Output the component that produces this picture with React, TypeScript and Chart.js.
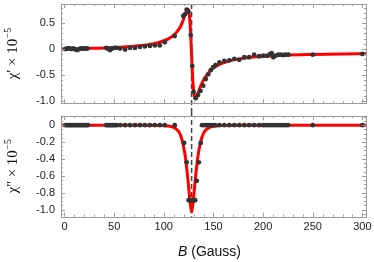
import React, { useEffect, useRef } from "react";
import { Chart, registerables } from "chart.js";
Chart.register(...registerables);

// ---- axes ----
const X_MIN = -3.5;
const X_MAX = 303.6;
const xTicks = [0, 50, 100, 150, 200, 250, 300];
const xMinorStep = 10;
const topYMin = -1.05;
const topYMax = 0.87;
const topYTicks = [0.5, 0, -0.5, -1.0];
const topYLabels = ["0.5", "0", "-0.5", "-1.0"];
const topYMinorStep = 0.1;
const botYMin = -1.085;
const botYMax = 0.109;
const botYTicks = [0, -0.2, -0.4, -0.6, -0.8, -1.0];
const botYLabels = ["0", "-0.2", "-0.4", "-0.6", "-0.8", "-1.0"];
const botYMinorStep = 0.05;
const resonanceB = 128;

// ---- chi' data ----
const chiPrimeB = [1, 3, 5, 7, 9, 11, 13, 15, 17, 19, 21, 23,
  42, 44, 46, 48, 50, 52,
  56, 61, 66, 71, 76, 81, 86, 91, 96, 101, 111,
  119.6, 121.3, 123, 124.7, 127.1, 128.7, 129.9, 132.2, 134.5, 137, 139.7, 142.3, 144.8, 147.3, 149.8, 152,
  156, 161, 166, 171, 176, 181, 186, 191, 196,
  200, 204, 207, 208.6, 210.3, 212.7, 215.3, 217.7, 220.4, 222.5, 225.4, 250, 300];
const chiPrimeVal = [0, 0.01, 0.01, 0, 0.01, -0.01, -0.02, 0, 0.01, 0.01, 0.01, 0.01,
  0.02, 0.0, -0.02, 0.01, 0.02, 0.02,
  0.01, -0.01, 0.02, 0.02, 0.04, 0.05, 0.06, 0.07, 0.07, 0.13, 0.25,
  0.64, 0.67, 0.76, 0.72, 0.27, -0.33, -0.83, -0.95, -0.89, -0.81, -0.71, -0.58, -0.49, -0.41, -0.35, -0.31,
  -0.26, -0.23, -0.22, -0.19, -0.21, -0.16, -0.16, -0.11, -0.14,
  -0.13, -0.13, -0.1, -0.08, -0.16, -0.13, -0.11, -0.11, -0.12, -0.11, -0.11, -0.11, -0.095];

// ---- chi' fit ----
const fitPrimeB = [-4, 0, 20, 40, 60, 80, 90, 100, 105, 110, 114, 117, 119, 120.5, 122, 123, 124, 124.8, 125.6, 126.4,
  127.2, 128, 128.8, 129.6, 130.4, 131.2, 132, 133, 134.5, 136, 138, 140, 143, 146, 150, 155, 160, 170, 180, 190,
  200, 220, 250, 280, 304];
const fitPrimeVal = [0, 0, 0.01, 0.02, 0.04, 0.075, 0.1, 0.16, 0.2, 0.27, 0.35, 0.44, 0.53, 0.61, 0.69, 0.74, 0.77, 0.76, 0.68, 0.5,
  0.22, -0.12, -0.45, -0.71, -0.87, -0.94, -0.95, -0.92, -0.85, -0.77, -0.68, -0.6, -0.51, -0.44, -0.37, -0.31, -0.27, -0.21, -0.18, -0.155,
  -0.14, -0.12, -0.105, -0.095, -0.09];

// ---- chi'' data ----
const chiDoubleB = [1, 2.5, 4, 5.5, 7, 8.5, 10, 11.5, 13, 14.5, 16, 17.5, 19, 20.5, 22, 23.5,
  42, 43.5, 45, 46.5, 48, 49.5, 51, 52.5,
  56, 61, 66, 71, 76, 81, 86, 91, 96, 101, 111,
  120.5, 123, 125, 126.7, 128.3, 130, 131.6, 133.2, 135.3, 137.2,
  138.5, 140.7, 142.9, 145.1, 147.3, 149.5, 151.7,
  156, 161, 166, 171, 176, 181, 186, 191, 196,
  200, 202.5, 205, 207.5, 210, 212.5, 215, 217.5, 220, 222.5, 225, 250, 300];
const chiDoubleVal = [0, 0, 0, 0, 0, 0, 0, 0, 0, 0, 0, 0, 0, 0, 0, 0,
  0, 0, 0, 0, 0, 0, 0, 0,
  0, 0, 0, 0, 0, 0, 0, 0, 0, 0, 0,
  -0.21, -0.44, -0.89, -0.89, -0.89, -0.89, -0.89, -0.66, -0.44, -0.21,
  0, 0, 0, 0, 0, 0, 0,
  0, 0, 0, 0, 0, 0, 0, 0, 0,
  0, 0, 0, 0, 0, 0, 0, 0, 0, 0, 0, 0, 0];

// ---- chi'' fit ----
const fitDoubleB = [-4, 80, 100, 105, 110, 113.5, 115.5, 117.5, 119.5, 121.5, 123, 124.5, 125.7, 126.8, 127.5, 128, 128.5, 129.2, 130.3, 131.5,
  133, 134.5, 136.5, 138.5, 140.5, 142.5, 146, 151, 156, 180, 304];
const fitDoubleVal = [0, 0, -0.005, -0.01, -0.025, -0.055, -0.085, -0.14, -0.23, -0.36, -0.5, -0.67, -0.82, -0.94, -1.0, -1.03, -1.0, -0.94, -0.82, -0.67,
  -0.5, -0.36, -0.23, -0.14, -0.085, -0.055, -0.025, -0.01, -0.005, 0, 0];

const FRAME = "#9a9a9a";
const TICKTXT = "#222";
const DOT = "#333";
const RED = "#ff0000";
const SANS = "'Liberation Sans', Arial, sans-serif";
const SERIF = "'Liberation Serif', 'Times New Roman', serif";

const pts = (xs: number[], ys: number[]) => xs.map((x, i) => ({ x, y: ys[i] }));

function drawTicks(ctx: CanvasRenderingContext2D, chart: any, yMajor: number[], yStep: number) {
  const a = chart.chartArea;
  const xs = chart.scales.x;
  const ys = chart.scales.y;
  ctx.save();
  ctx.strokeStyle = FRAME;
  ctx.lineWidth = 1;
  ctx.beginPath();
  const kx0 = Math.ceil(xs.min / xMinorStep);
  const kx1 = Math.floor(xs.max / xMinorStep);
  for (let k = kx0; k <= kx1; k++) {
    const v = k * xMinorStep;
    const major = xTicks.some((t) => Math.abs(t - v) < 1e-6);
    const len = major ? 4 : 2;
    const px = Math.round(xs.getPixelForValue(v)) + 0.5;
    ctx.moveTo(px, a.bottom);
    ctx.lineTo(px, a.bottom - len);
    ctx.moveTo(px, a.top);
    ctx.lineTo(px, a.top + len);
  }
  const ky0 = Math.ceil(ys.min / yStep - 1e-6);
  const ky1 = Math.floor(ys.max / yStep + 1e-6);
  for (let k = ky0; k <= ky1; k++) {
    const v = k * yStep;
    const major = yMajor.some((t) => Math.abs(t - v) < 1e-6);
    const len = major ? 4 : 2;
    const py = Math.round(ys.getPixelForValue(v)) + 0.5;
    ctx.moveTo(a.left, py);
    ctx.lineTo(a.left + len, py);
    ctx.moveTo(a.right, py);
    ctx.lineTo(a.right - len, py);
  }
  ctx.stroke();
  ctx.strokeRect(Math.round(a.left) + 0.5, Math.round(a.top) + 0.5, Math.round(a.right - a.left), Math.round(a.bottom - a.top));
  ctx.restore();
}

function drawYTitle(ctx: CanvasRenderingContext2D, cy: number, primes: string) {
  const main = "\u03c7" + primes + " \u00d7 10";
  const sup = "\u22125";
  ctx.save();
  ctx.translate(12, cy);
  ctx.rotate(-Math.PI / 2);
  ctx.fillStyle = "#111";
  ctx.textBaseline = "middle";
  ctx.font = "15px " + SERIF;
  const w1 = ctx.measureText(main).width;
  ctx.font = "10px " + SERIF;
  const w2 = ctx.measureText(sup).width;
  const start = -(w1 + w2) / 2;
  ctx.font = "15px " + SERIF;
  ctx.textAlign = "left";
  ctx.fillText(main, start, 1);
  ctx.font = "10px " + SERIF;
  ctx.fillText(sup, start + w1 + 0.5, -4);
  ctx.restore();
}

function dashedLine(ctx: CanvasRenderingContext2D, chart: any, y0: number, y1: number) {
  const px = chart.scales.x.getPixelForValue(resonanceB);
  ctx.save();
  ctx.strokeStyle = "#444";
  ctx.lineWidth = 1.5;
  ctx.setLineDash([5, 3]);
  ctx.beginPath();
  ctx.moveTo(px, y0);
  ctx.lineTo(px, y1);
  ctx.stroke();
  ctx.restore();
}

export default function App() {
  const topRef = useRef<HTMLCanvasElement>(null);
  const botRef = useRef<HTMLCanvasElement>(null);

  useEffect(() => {
    const tickFont = { family: SANS, size: 11 };
    const topPlugin = {
      id: "topDecor",
      beforeDatasetsDraw(chart: any) {
        dashedLine(chart.ctx, chart, chart.chartArea.top, chart.height);
      },
      afterDatasetsDraw(chart: any) {
        drawTicks(chart.ctx, chart, topYTicks, topYMinorStep);
      },
      afterDraw(chart: any) {
        const a = chart.chartArea;
        drawYTitle(chart.ctx, (a.top + a.bottom) / 2, "'");
      },
    };
    const botPlugin = {
      id: "botDecor",
      beforeDatasetsDraw(chart: any) {
        dashedLine(chart.ctx, chart, 0, chart.chartArea.bottom);
      },
      afterDatasetsDraw(chart: any) {
        drawTicks(chart.ctx, chart, botYTicks, botYMinorStep);
      },
      afterDraw(chart: any) {
        const a = chart.chartArea;
        const ctx = chart.ctx;
        drawYTitle(ctx, (a.top + a.bottom) / 2, "''");
        ctx.save();
        ctx.fillStyle = "#111";
        ctx.textBaseline = "middle";
        ctx.textAlign = "left";
        const t1 = "B";
        const t2 = " (Gauss)";
        ctx.font = "italic 14px " + SANS;
        const w1 = ctx.measureText(t1).width;
        ctx.font = "14px " + SANS;
        const w2 = ctx.measureText(t2).width;
        const x0 = 209.5 - (w1 + w2) / 2;
        const y = 140;
        ctx.font = "italic 14px " + SANS;
        ctx.fillText(t1, x0, y);
        ctx.font = "14px " + SANS;
        ctx.fillText(t2, x0 + w1, y);
        ctx.restore();
      },
    };

    const dotDs = (data: any[]) => ({
      data,
      showLine: false,
      pointRadius: 2.4,
      pointBackgroundColor: DOT,
      pointBorderWidth: 0,
      pointBorderColor: DOT,
      order: 0,
    });
    const fitDs = (data: any[]) => ({
      data,
      showLine: true,
      borderColor: RED,
      borderWidth: 3,
      pointRadius: 0,
      cubicInterpolationMode: "monotone",
      order: 1,
    });

    const yAxis = (min: number, max: number, ticks: number[], labels: string[]) => ({
      type: "linear",
      min,
      max,
      afterFit: (s: any) => {
        s.width = 61;
        s.paddingTop = 0;
        s.paddingBottom = 0;
      },
      afterBuildTicks: (s: any) => {
        s.ticks = ticks.map((v) => ({ value: v }));
      },
      ticks: {
        callback: (v: number) => {
          const i = ticks.findIndex((t) => Math.abs(t - v) < 1e-9);
          return i >= 0 ? labels[i] : "";
        },
        font: tickFont,
        color: TICKTXT,
        padding: 6,
      },
      grid: { display: false, drawTicks: false },
      border: { display: false },
    });

    const top = new Chart(topRef.current as HTMLCanvasElement, {
      type: "scatter",
      data: {
        datasets: [dotDs(pts(chiPrimeB, chiPrimeVal)), fitDs(pts(fitPrimeB, fitPrimeVal))] as any,
      },
      options: {
        responsive: false,
        animation: false,
        devicePixelRatio: 1,
        events: [],
        layout: { padding: { top: 1, right: 8, bottom: 112 - 103.3, left: 0 } },
        plugins: { legend: { display: false }, tooltip: { enabled: false } },
        scales: {
          x: { type: "linear", display: false, min: X_MIN, max: X_MAX },
          y: yAxis(topYMin, topYMax, topYTicks, topYLabels) as any,
        },
      },
      plugins: [topPlugin],
    });

    const bot = new Chart(botRef.current as HTMLCanvasElement, {
      type: "scatter",
      data: {
        datasets: [dotDs(pts(chiDoubleB, chiDoubleVal)), fitDs(pts(fitDoubleB, fitDoubleVal))] as any,
      },
      options: {
        responsive: false,
        animation: false,
        devicePixelRatio: 1,
        events: [],
        layout: { padding: { top: 1.3, right: 8, bottom: 0, left: 0 } },
        plugins: { legend: { display: false }, tooltip: { enabled: false } },
        scales: {
          x: {
            type: "linear",
            position: "bottom",
            min: X_MIN,
            max: X_MAX,
            afterFit: (s: any) => {
              s.height = 45.3;
              s.paddingLeft = 0;
              s.paddingRight = 0;
            },
            afterBuildTicks: (s: any) => {
              s.ticks = xTicks.map((v) => ({ value: v }));
            },
            ticks: {
              callback: (v: number) => String(v),
              font: tickFont,
              color: TICKTXT,
              padding: 4,
              maxRotation: 0,
              autoSkip: false,
            },
            grid: { display: false, drawTicks: false },
            border: { display: false },
          },
          y: yAxis(botYMin, botYMax, botYTicks, botYLabels) as any,
        },
      },
      plugins: [botPlugin],
    });

    return () => {
      top.destroy();
      bot.destroy();
    };
  }, []);

  return (
    <div style={{ position: "absolute", left: 0, top: 0, width: 374, height: 262, background: "#fff" }}>
      <canvas
        ref={topRef}
        width={374}
        height={112}
        style={{ position: "absolute", left: 0, top: 0, width: 374, height: 112 }}
      />
      <canvas
        ref={botRef}
        width={374}
        height={150}
        style={{ position: "absolute", left: 0, top: 112, width: 374, height: 150 }}
      />
    </div>
  );
}
